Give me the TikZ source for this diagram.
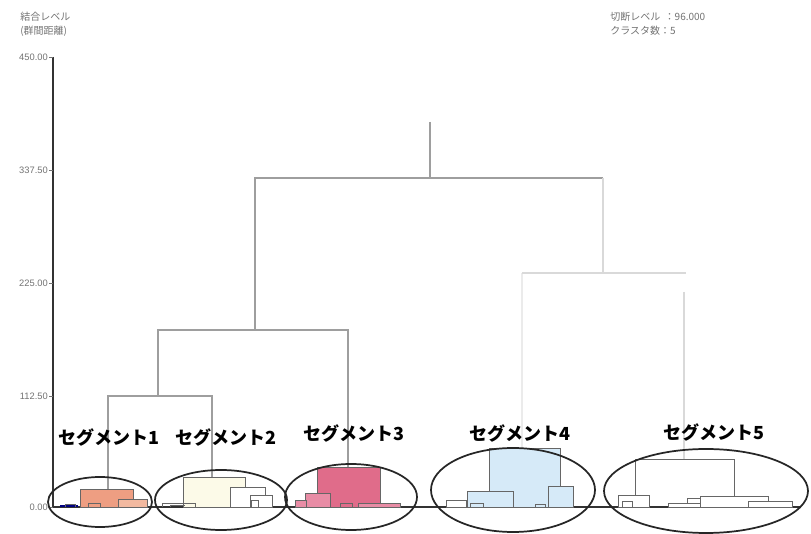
\documentclass[tikz,border=0pt]{standalone}
\usepackage{fontspec}
\setmainfont{Noto Sans CJK JP}
\newfontfamily\numfont{Liberation Sans}
\definecolor{segA}{RGB}{238,158,130}
\definecolor{segAl}{RGB}{242,185,160}
\definecolor{segB}{RGB}{252,250,232}
\definecolor{segC}{RGB}{224,108,138}
\definecolor{segCl}{RGB}{232,140,165}
\definecolor{segD}{RGB}{214,234,248}
\begin{document}
\begin{tikzpicture}[x=0.75pt,y=-0.75pt,
  dline/.style={draw=black!38,line width=0.9pt},
  lline/.style={draw=black!15,line width=0.9pt},
  clbox/.style={draw=black!60,line width=0.6pt},
  segell/.style={draw=black!85,line width=1.3pt},
  seglabel/.style={font=\bfseries\fontsize{13.5}{15}\selectfont,inner sep=0pt},
  ticklabel/.style={font=\numfont\fontsize{7}{8}\selectfont,text=black!55,anchor=east,inner sep=0pt},
  infotext/.style={font=\fontsize{7.5}{9}\selectfont,text=black!55,anchor=west,inner sep=0pt}]
\useasboundingbox (0,0) rectangle (811,534);
\fill[white] (0,0) rectangle (811,534);

% info texts
\node[infotext] (t1) at (20,17) {結合レベル};
\node[infotext] (t2) at (20,31) {(群間距離)};
\node[infotext] (t3) at (610,17) {切断レベル\ \ ：96.000};
\node[infotext] (t4) at (610,31) {クラスタ数：5};

% axis
\draw[black!80,line width=1.6pt] (53,57) -- (53,508);
\draw[black!80,line width=1.6pt] (52,507) -- (800,507);
\foreach \v/\yy in {450.00/57,337.50/170,225.00/283,112.50/396,0.00/507}{
  \draw[black!55,line width=0.6pt] (49,\yy) -- (53,\yy);
  \node[ticklabel] at (48,\yy) {\v};
}

% upper dendrogram
\draw[dline] (430,122) -- (430,178);
\draw[dline] (255,330) -- (255,178) -- (603,178);
\draw[dline] (158,396) -- (158,330) -- (348,330) -- (348,467);
\draw[dline] (108,489) -- (108,396) -- (212,396) -- (212,477);
\draw[lline] (603,178) -- (603,273);
\draw[draw=black!8,line width=0.9pt] (522,448) -- (522,273);
\draw[lline] (522,273) -- (686,273);
\draw[lline] (684,292) -- (684,459);

% segment 1
\filldraw[clbox,fill=segA] (80,507) rectangle (133,489);
\filldraw[clbox,fill=segAl] (118,507) rectangle (147,499);
\draw[clbox] (88,507) -- (88,503) -- (100,503) -- (100,507);
\draw[blue!50!black,line width=1pt] (60,506) -- (78,506);
\draw[black!60,line width=0.6pt] (65,507) -- (65,504) -- (75,504) -- (75,507);

% segment 2
\filldraw[clbox,fill=segB] (183,507) rectangle (245,477);
\filldraw[clbox,fill=white] (230,507) rectangle (265,487);
\filldraw[clbox,fill=white] (250,507) rectangle (272,495);
\draw[clbox] (251,507) -- (251,500) -- (258,500) -- (258,507);
\draw[clbox] (162,507) -- (162,503) -- (195,503) -- (195,507);
\draw[clbox] (170,507) -- (170,505) -- (185,505);

% segment 3
\filldraw[clbox,fill=segC] (317,507) rectangle (380,467);
\filldraw[clbox,fill=segCl] (305,507) rectangle (330,493);
\filldraw[clbox,fill=segCl] (295,507) rectangle (306,500);
\filldraw[clbox,fill=segCl] (358,507) rectangle (400,503);
\draw[clbox] (340,507) -- (340,503) -- (352,503) -- (352,507);

% segment 4
\filldraw[clbox,fill=segD] (489,507) rectangle (560,448);
\filldraw[clbox,fill=segD] (467,507) rectangle (513,491);
\filldraw[clbox,fill=segD] (548,507) rectangle (573,486);
\filldraw[clbox,fill=white] (446,507) rectangle (466,500);
\draw[clbox] (470,507) -- (470,503) -- (483,503) -- (483,507);
\draw[clbox] (535,507) -- (535,504) -- (545,504) -- (545,507);

% segment 5
\draw[clbox] (635,507) -- (635,459) -- (734,459) -- (734,496);
\filldraw[clbox,fill=white] (618,507) rectangle (649,495);
\filldraw[clbox,fill=white] (687,507) rectangle (715,498);
\filldraw[clbox,fill=white] (700,507) rectangle (768,496);
\filldraw[clbox,fill=white] (748,507) rectangle (792,501);
\filldraw[clbox,fill=white] (668,507) rectangle (700,503);
\draw[clbox] (622,507) -- (622,501) -- (632,501) -- (632,507);

% ellipses
\draw[segell] (100,502) ellipse [x radius=52,y radius=25];
\draw[segell] (221,500) ellipse [x radius=66,y radius=30];
\draw[segell] (351,497) ellipse [x radius=66,y radius=33];
\draw[segell] (513,490) ellipse [x radius=82,y radius=42];
\draw[segell] (706,491) ellipse [x radius=102,y radius=42];

% labels
\node[seglabel] (s1) at (109,437) {セグメント1};
\node[seglabel] (s2) at (226,437) {セグメント2};
\node[seglabel] (s3) at (354,433) {セグメント3};
\node[seglabel] (s4) at (520,433) {セグメント4};
\node[seglabel] (s5) at (714,432) {セグメント5};
\end{tikzpicture}
\end{document}
